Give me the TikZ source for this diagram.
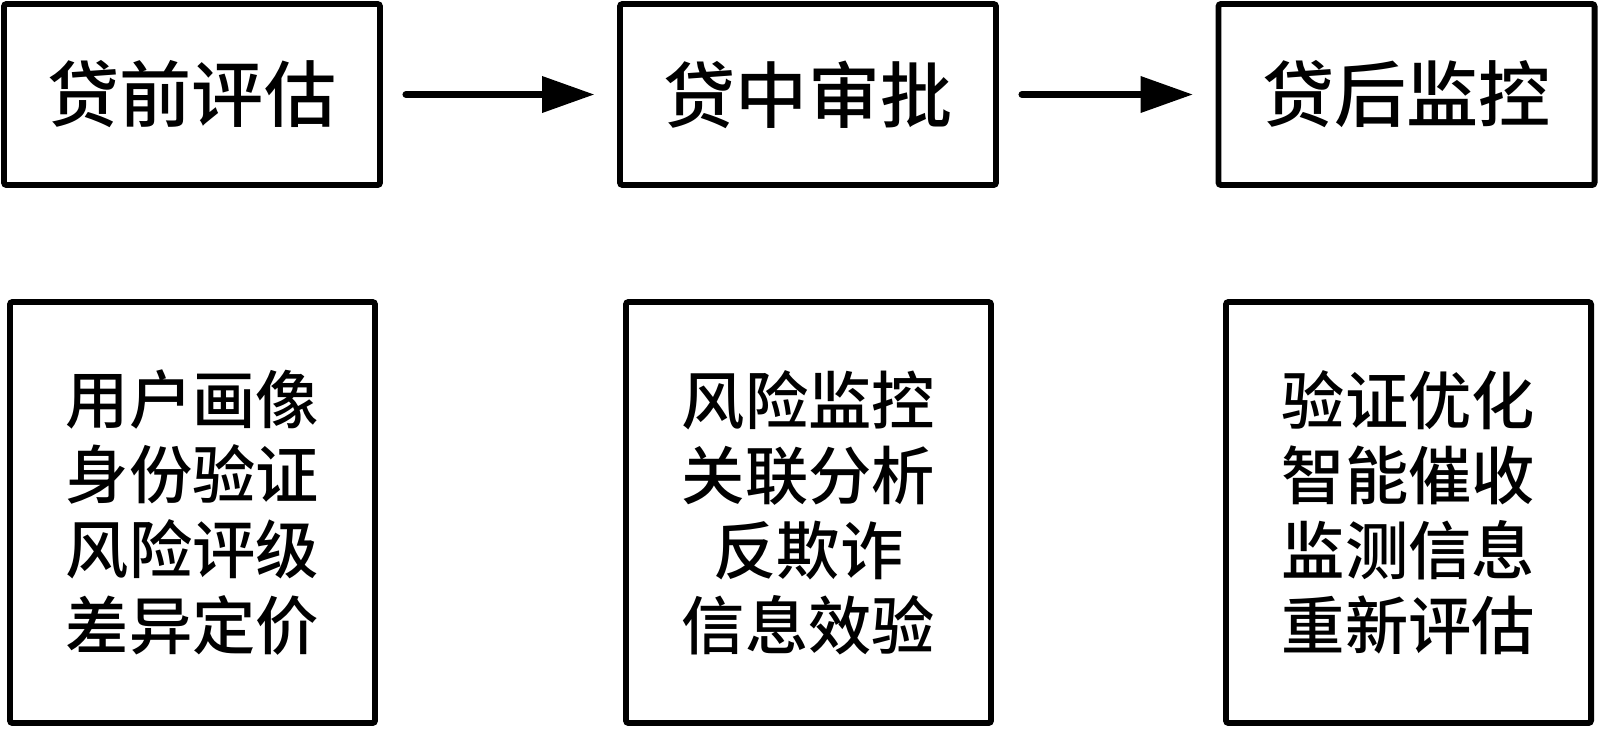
\documentclass[tikz,border=0pt]{standalone}
\usepackage{fontspec}
\usepackage{tikz}
\usetikzlibrary{arrows.meta}
\newfontfamily\cjk{Noto Sans CJK SC}[UprightFont={* Medium}]

\begin{document}
\begin{tikzpicture}[
    stagebox/.style = {draw, line width=3.4pt, rounded corners=1.5pt,
        minimum width=7.52cm, minimum height=3.62cm, inner sep=0pt,
        font=\cjk\fontsize{41}{48}\selectfont},
    detailbox/.style = {draw, line width=3.4pt, rounded corners=1.5pt,
        minimum width=7.3cm, minimum height=8.42cm, inner sep=0pt, align=center,
        font=\cjk\fontsize{36}{42.7}\selectfont},
    flow/.style = {line width=4pt, line cap=round,
        arrows = {-Triangle[width=0.7cm, length=1.05cm]},
        shorten <=0.46cm, shorten >=0.45cm}
]
\useasboundingbox (0, 0) rectangle (32, -14.6);

\node[stagebox] (stage_pre) at (3.84, -1.89) {贷前评估};
\node[stagebox] (stage_mid) at (16.16, -1.89) {贷中审批};
\node[stagebox] (stage_post) at (28.13, -1.89) {贷后监控};

\draw[flow] (stage_pre.east) -- (stage_mid.west);
\draw[flow] (stage_mid.east) -- (stage_post.west);

\node[detailbox] (detail_pre) at (3.85, -10.25)
    {用户画像\\身份验证\\风险评级\\差异定价};
\node[detailbox] (detail_mid) at (16.17, -10.25)
    {风险监控\\关联分析\\反欺诈\\信息效验};
\node[detailbox] (detail_post) at (28.17, -10.25)
    {验证优化\\智能催收\\监测信息\\重新评估};
\end{tikzpicture}
\end{document}
